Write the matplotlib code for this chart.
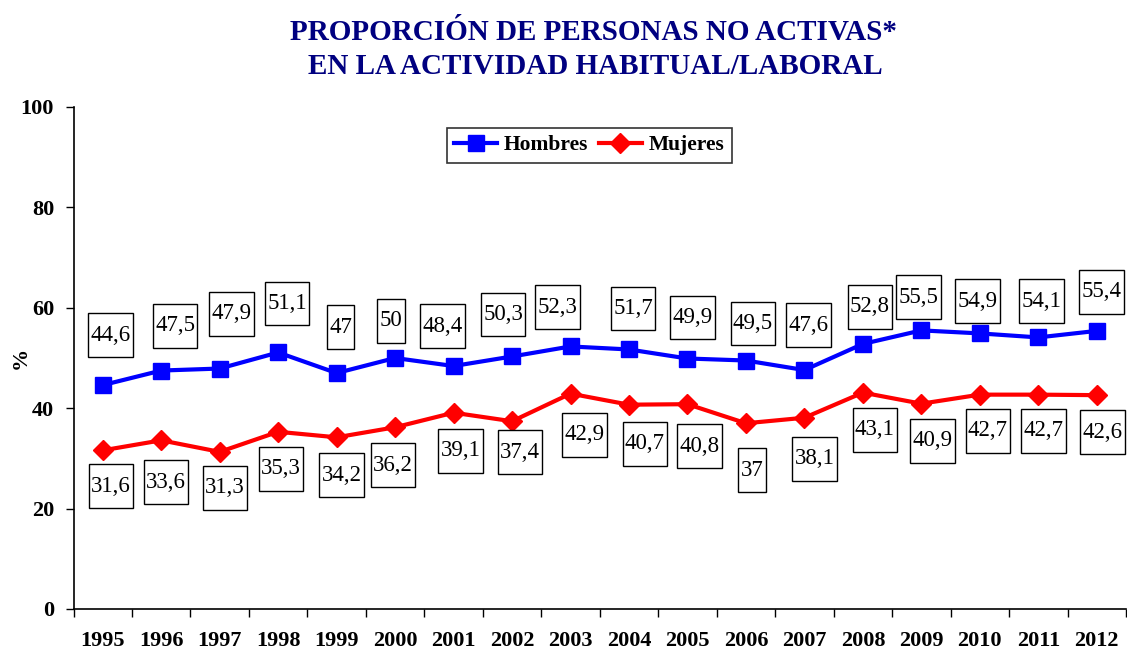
import numpy as np
import matplotlib
matplotlib.use("Agg")
import matplotlib.pyplot as plt
from matplotlib.path import Path

# data
years = [str(y) for y in range(1995, 2013)]
hombres = [44.6, 47.5, 47.9, 51.1, 47, 50, 48.4, 50.3, 52.3, 51.7,
           49.9, 49.5, 47.6, 52.8, 55.5, 54.9, 54.1, 55.4]
mujeres = [31.6, 33.6, 31.3, 35.3, 34.2, 36.2, 39.1, 37.4, 42.9, 40.7,
           40.8, 37, 38.1, 43.1, 40.9, 42.7, 42.7, 42.6]

# label offsets in pixels (Excel labels were placed by hand)
off_h = [(8, 50), (14, 45), (12, 55), (9, 49), (4, 46), (-4, 37),
         (-11, 40), (-9, 42), (-13, 39), (4, 41), (5, 41), (7, 37),
         (4, 45), (7, 37), (-3, 33), (-2, 32), (3, 36), (5, 39)]
off_m = [(8, -36), (5, -42), (5, -36), (3, -37), (5, -38), (-2, -38),
         (7, -38), (8, -31), (14, -41), (16, -39), (12, -42), (6, -47),
         (10, -41), (12, -37), (11, -37), (8, -36), (5, -36), (6, -37)]

plt.rcParams["font.family"] = ["Liberation Serif", "DejaVu Serif"]

NAVY = "#000080"
BLUE = "#0000ff"
RED = "#ff0000"


def label_box(x0, y0, width, height, mutation_size):
    # square box with more padding top/bottom than left/right
    px = 0.1 * mutation_size
    py = 0.5 * mutation_size
    x0, x1 = x0 - px, x0 + width + px
    y0, y1 = y0 - py, y0 + height + py
    return Path([(x0, y0), (x1, y0), (x1, y1), (x0, y1), (x0, y0)], closed=True)


def fmt(v):
    return ("%g" % v).replace(".", ",")


W, H = 1127, 654
fig = plt.figure(figsize=(W / 100, H / 100), dpi=100)
ax = fig.add_axes([73.5 / W, 45 / H, (W - 74.5) / W, 502 / H])

x = np.arange(len(years)) + 0.5
ax.plot(x, hombres, "-s", color=BLUE, lw=3, ms=11.5, label="Hombres",
        clip_on=False, zorder=3)
ax.plot(x, mujeres, "-D", color=RED, lw=3, ms=10, label="Mujeres",
        clip_on=False, zorder=3)

for xs, vals, offs in [(x, hombres, off_h), (x, mujeres, off_m)]:
    for xi, v, (dx, dy) in zip(xs, vals, offs):
        ax.annotate(fmt(v), xy=(xi, v), xytext=(dx, dy),
                    textcoords="offset pixels", ha="center", va="center",
                    fontsize=16.5, annotation_clip=False, zorder=4,
                    bbox=dict(boxstyle=label_box, fc="white", ec="black", lw=1))

ax.set_xlim(0, len(years))
ax.set_ylim(0, 100)
ax.set_yticks(range(0, 101, 20))
ax.set_xticks(np.arange(len(years) + 1))
ax.set_xticklabels([])
ax.set_xticks(x, minor=True)
ax.set_xticklabels(years, minor=True, fontweight="bold", fontsize=16)
ax.tick_params(axis="x", which="major", direction="out", length=6, width=1)
ax.tick_params(axis="x", which="minor", length=0, pad=16)
ax.tick_params(axis="y", direction="out", length=6, width=1, pad=8,
               labelsize=16)
for t in ax.get_yticklabels():
    t.set_fontweight("bold")

for s in ["top", "right"]:
    ax.spines[s].set_visible(False)
for s in ["left", "bottom"]:
    ax.spines[s].set_linewidth(1.2)

leg = ax.legend(loc="center", bbox_to_anchor=(0.49, 0.924), ncol=2,
                prop={"weight": "bold", "size": 15.5}, frameon=True,
                fancybox=False, edgecolor="black", handlelength=2.0,
                handletextpad=0.3, columnspacing=0.5, borderpad=0.35,
                borderaxespad=0)
leg.get_frame().set_linewidth(1.2)

fig.text(21 / W, 1 - 358 / H, "%", rotation=90, ha="center", va="center",
         fontsize=16, fontweight="bold")
fig.text(593 / W, 1 - 33 / H, "PROPORCIÓN DE PERSONAS NO ACTIVAS*",
         ha="center", va="center", fontsize=21, fontweight="bold", color=NAVY)
fig.text(595 / W, 1 - 67 / H, "EN LA ACTIVIDAD HABITUAL/LABORAL",
         ha="center", va="center", fontsize=21, fontweight="bold", color=NAVY)

fig.savefig("out.png", dpi=100)
